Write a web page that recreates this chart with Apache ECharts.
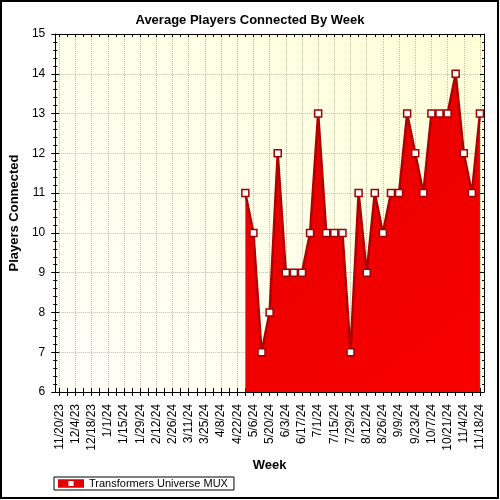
<!DOCTYPE html>
<html><head><meta charset="utf-8">
<script src="https://cdn.jsdelivr.net/npm/echarts@6/dist/echarts.min.js"></script>
<style>html,body{margin:0;padding:0;background:#fff}#c{width:500px;height:500px}</style>
</head><body><div id="c"></div>
<script>
const weeks = ['11/20/23','11/27/23','12/4/23','12/11/23','12/18/23','12/25/23',
  '1/1/24','1/8/24','1/15/24','1/22/24','1/29/24','2/5/24','2/12/24','2/19/24','2/26/24',
  '3/4/24','3/11/24','3/18/24','3/25/24','4/1/24','4/8/24','4/15/24','4/22/24','4/29/24',
  '5/6/24','5/13/24','5/20/24','5/27/24','6/3/24','6/10/24','6/17/24','6/24/24',
  '7/1/24','7/8/24','7/15/24','7/22/24','7/29/24','8/5/24','8/12/24','8/19/24','8/26/24',
  '9/2/24','9/9/24','9/16/24','9/23/24','9/30/24','10/7/24','10/14/24','10/21/24','10/28/24',
  '11/4/24','11/11/24','11/18/24'];
const players = [null,null,null,null,null,null,null,null,null,null,null,null,null,null,null,
  null,null,null,null,null,null,null,null,
  11,10,7,8,12,9,9,9,10,13,10,10,10,7,11,9,11,10,11,11,13,12,11,13,13,13,14,12,11,13];
const seriesName = 'Transformers Universe MUX';
const yMin = 6, yMax = 15, yStep = 1;

const FONT = 'Liberation Sans';
const chart = echarts.init(document.getElementById('c'), null, {renderer: 'canvas'});
const black = {color: '#000', width: 1};
const everyOther = function (i) { return i % 2 === 0; };
chart.setOption({
  animation: false,
  textStyle: {fontFamily: FONT},
  title: {text: 'Average Players Connected By Week', left: 'center', top: 9,
    textStyle: {fontFamily: FONT, fontWeight: 'bold', fontSize: 13, color: '#000'}},
  grid: {left: 54, right: 16, top: 34, bottom: 108, show: true, borderWidth: 0,
    backgroundColor: new echarts.graphic.LinearGradient(0, 1, 1, 0, [
      {offset: 0, color: '#FFFFFA'}, {offset: 1, color: '#FFFFD8'}])},
  legend: {left: 54, top: 477, itemWidth: 26, itemHeight: 10, itemGap: 4,
    icon: 'path://M0,0H30V10H0Z M12,2V8H18V2Z',
    borderColor: '#000', borderWidth: 1, backgroundColor: '#fff', padding: [1, 6, 1, 4],
    textStyle: {fontFamily: FONT, fontSize: 11, color: '#000'},
    data: [{name: seriesName, itemStyle: {color: '#E00000', borderWidth: 0}}]},
  graphic: [{type: 'rect', shape: {x: 1, y: 1, width: 497, height: 497},
    style: {fill: 'none', stroke: '#000', lineWidth: 2}, z: 100}],
  xAxis: [
    {type: 'category', data: weeks, boundaryGap: true, position: 'bottom',
      axisLine: {show: true, lineStyle: black},
      axisTick: {show: true, alignWithLabel: true, interval: 0, length: 4, lineStyle: black},
      axisLabel: {interval: everyOther, rotate: 90, fontSize: 12, color: '#000', margin: 12, fontFamily: FONT},
      splitLine: {show: false},
      name: 'Week', nameLocation: 'middle', nameGap: 66,
      nameTextStyle: {fontFamily: FONT, fontWeight: 'bold', fontSize: 13, color: '#000'}},
    {type: 'category', data: weeks, boundaryGap: true, position: 'bottom',
      axisLine: {show: false},
      axisTick: {show: true, inside: true, alignWithLabel: true, interval: 0, length: 4, lineStyle: black},
      axisLabel: {show: false}, splitLine: {show: false}},
    {type: 'category', data: weeks, boundaryGap: false, position: 'top',
      min: -0.5, max: weeks.length - 0.5,
      axisLine: {show: false},
      axisTick: {show: false},
      axisLabel: {show: false},
      splitLine: {show: false}},
    {type: 'category', data: weeks, boundaryGap: true, position: 'top',
      axisLine: {show: true, lineStyle: black},
      axisTick: {show: true, inside: true, alignWithLabel: true, interval: 0, length: 3, lineStyle: black},
      axisLabel: {show: false}, splitLine: {show: false}}
  ],
  yAxis: [
    {type: 'value', min: yMin, max: yMax, interval: yStep, position: 'left',
      axisLine: {show: true, lineStyle: black},
      axisTick: {show: true, length: 4, lineStyle: black},
      minorTick: {show: true, splitNumber: 5, length: 2, lineStyle: black},
      axisLabel: {fontSize: 12, color: '#000', margin: 10, fontFamily: FONT},
      splitLine: {show: true, lineStyle: {type: 'dotted', color: '#bbb'}},
      name: 'Players Connected', nameLocation: 'middle', nameGap: 31,
      nameTextStyle: {fontFamily: FONT, fontWeight: 'bold', fontSize: 13, color: '#000'}},
    {type: 'value', min: yMin, max: yMax, interval: yStep, position: 'left',
      axisLine: {show: false},
      axisTick: {show: true, inside: true, length: 4, lineStyle: black},
      minorTick: {show: true, splitNumber: 5, length: 2, lineStyle: black},
      axisLabel: {show: false}, splitLine: {show: false}},
    {type: 'value', min: yMin, max: yMax, interval: yStep, position: 'right',
      axisLine: {show: true, lineStyle: black},
      axisTick: {show: true, inside: true, length: 4, lineStyle: black},
      minorTick: {show: true, splitNumber: 5, length: 2, lineStyle: black},
      axisLabel: {show: false}, splitLine: {show: false}}
  ],
  series: [{
    name: seriesName, type: 'line', data: players, xAxisIndex: 0, yAxisIndex: 0,
    symbol: 'rect', symbolSize: 7, showSymbol: true, showAllSymbol: true,
    itemStyle: {color: '#fff', borderColor: '#A00000', borderWidth: 1.5},
    lineStyle: {color: '#B00000', width: 2.5},
    areaStyle: {origin: 'start', opacity: 1,
      color: new echarts.graphic.LinearGradient(0, 0, 1, 1, [
        {offset: 0, color: '#E30000'}, {offset: 1, color: '#FA0000'}])},
    markLine: {silent: true, symbol: 'none', label: {show: false},
      lineStyle: {type: 'dotted', color: '#bbb', width: 1}, z: 0,
      data: weeks.filter(function (w, i) { return i % 2 === 0; }).map(function (w) { return {xAxis: w}; })},
    z: 3
  }]
});
</script></body></html>
